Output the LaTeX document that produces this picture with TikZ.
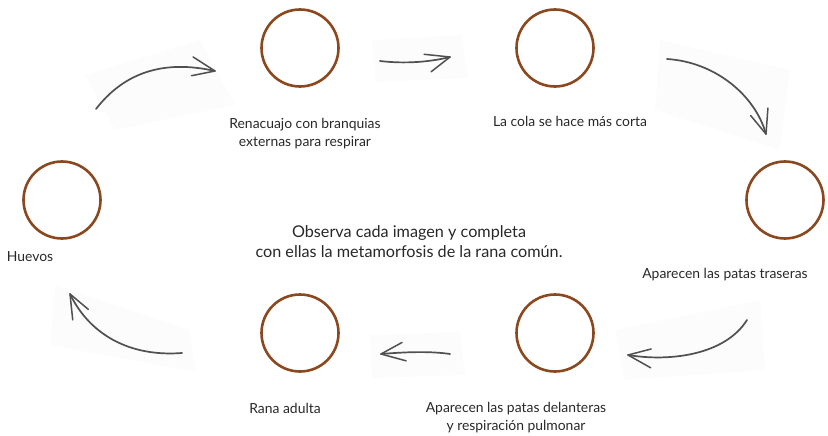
\documentclass[tikz,border=0pt]{standalone}
\usepackage{fontspec}
\setmainfont{Lato}
\usetikzlibrary{calc}
\definecolor{ring}{RGB}{139,72,30}
\definecolor{txt}{RGB}{40,40,40}
\definecolor{arr}{RGB}{80,80,80}
\tikzset{
  stage/.style={circle, draw=ring, line width=2.6pt, minimum size=77pt, inner sep=0pt},
  lbl/.style={text=txt, font=\fontsize{13.9}{18}\selectfont, align=center, inner sep=0pt},
  intro/.style={text=txt, font=\fontsize{16.2}{20}\selectfont, align=center, inner sep=0pt},
  sketch/.style={draw=arr, line width=1.7pt, line cap=round},
  barb/.style={draw=arr, line width=1.5pt, line cap=round, line join=round},
  paper/.style={fill=black!1.2, draw=none}
}
% start, control 1, control 2, end
\newcommand\frogarrow[4]{%
  \draw[sketch] #1 .. controls #2 and #3 .. #4;
  \draw[barb] ($#4!24pt!24:#3$) -- #4 -- ($#4!26pt!-20:#3$);
}
\begin{document}
\begin{tikzpicture}[x=1pt,y=-1pt]
\useasboundingbox (0,0) rectangle (828,436);
% faint paper backgrounds
\fill[paper] (85,75) -- (200,40) -- (235,105) -- (115,130) -- cycle;
\fill[paper] (372,40) -- (462,35) -- (468,78) -- (376,82) -- cycle;
\fill[paper] (660,40) -- (790,70) -- (780,150) -- (655,110) -- cycle;
\fill[paper] (615,330) -- (760,300) -- (765,370) -- (625,380) -- cycle;
\fill[paper] (370,335) -- (460,332) -- (465,375) -- (372,378) -- cycle;
\fill[paper] (55,285) -- (190,330) -- (195,372) -- (50,345) -- cycle;
% circles
\node[stage] (huevos) at (62,200) {};
\node[stage] (renac) at (300,48) {};
\node[stage] (cola) at (555,48) {};
\node[stage] (traseras) at (785,200) {};
\node[stage] (delanteras) at (555,333) {};
\node[stage] (adulta) at (300,333) {};
% labels
\node[lbl] (lhuevos) at (30,257) {Huevos};
\node[lbl] (lrenac) at (305,134) {Renacuajo con branquias\\externas para respirar};
\node[lbl] (lcola) at (570,121) {La cola se hace más corta};
\node[lbl] (ltraseras) at (725,275) {Aparecen las patas traseras};
\node[lbl] (ldelanteras) at (516,418) {Aparecen las patas delanteras\\y respiración pulmonar};
\node[lbl] (ladulta) at (285,408) {Rana adulta};
\node[intro] (intro) at (409,242) {Observa cada imagen y completa\\con ellas la metamorfosis de la rana común.};
% arrows
\coordinate (a1s) at (96,109); \coordinate (a1e) at (215,71);
\coordinate (a2s) at (380,61); \coordinate (a2e) at (450,57);
\coordinate (a3s) at (667,59); \coordinate (a3e) at (766,134);
\coordinate (a4s) at (747,320); \coordinate (a4e) at (628,355);
\coordinate (a5s) at (450,354); \coordinate (a5e) at (381,354);
\coordinate (a6s) at (182,353); \coordinate (a6e) at (70,294);
\frogarrow{(a1s)}{(130,65)}{(175,62)}{(a1e)}
\frogarrow{(a2s)}{(405,64)}{(430,62)}{(a2e)}
\frogarrow{(a3s)}{(715,62)}{(755,95)}{(a3e)}
\frogarrow{(a4s)}{(725,355)}{(670,362)}{(a4e)}
\frogarrow{(a5s)}{(430,351)}{(405,352)}{(a5e)}
\frogarrow{(a6s)}{(130,357)}{(90,335)}{(a6e)}
\end{tikzpicture}
\end{document}
